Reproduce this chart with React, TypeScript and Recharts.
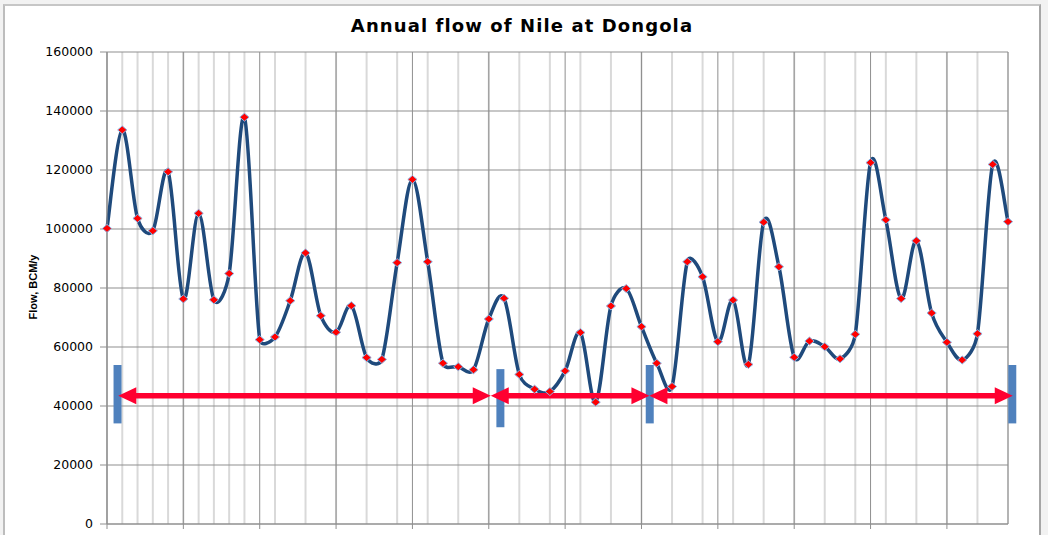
import { LineChart, Line, XAxis, YAxis, CartesianGrid, ReferenceLine } from "recharts";

// annual flow at Dongola (one value per year, 60 years)
const flow = [
  100200, 133600, 103600, 99400, 119400, 76300, 105300, 76000, 84900, 137900,
  62500, 63400, 75700, 91900, 70600, 65000, 74000, 56400, 55800, 88600,
  116800, 88900, 54500, 53300, 52300, 69500, 76500, 50700, 45700, 44900,
  51900, 64900, 41300, 73900, 79800, 66900, 54500, 46600, 88900, 83800,
  61800, 75900, 54100, 102300, 87200, 56500, 62000, 60100, 56000, 64300,
  122500, 103100, 76400, 96000, 71500, 61600, 55600, 64500, 121900, 102500,
];

const yTicks = [0, 20000, 40000, 60000, 80000, 100000, 120000, 140000, 160000];
const majorTicks = [0, 5, 10, 15, 20, 25, 30, 35, 40, 45, 50, 55];
const minorTicks = flow.map((_, i) => i);

// period annotations (x in year index, y in flow units)
const arrowLevel = 43500;
const arrowSpans = [
  [0.74, 25.13],
  [25.13, 35.52],
  [35.52, 59.31],
];
const periodBars = [
  { x: 0.69, from: 34100, to: 53900 },
  { x: 25.76, from: 32800, to: 52500 },
  { x: 35.54, from: 34100, to: 53900 },
  { x: 59.28, from: 34100, to: 53900 },
];

const data = flow.map((v, i) => ({ i, flow: v }));

// Excel-like smoothed line: Catmull-Rom arms, clamped so short segments don't overshoot
function smoothCurve(ctx: any) {
  let pts: number[][] = [];
  const arm = (from: number[], dx: number, dy: number, seg: number[]) => {
    const len = Math.hypot(dx, dy);
    const max = 0.5 * Math.hypot(seg[0] - from[0], seg[1] - from[1]);
    const s = len > max && len > 0 ? max / len : 1;
    return [from[0] + dx * s, from[1] + dy * s];
  };
  return {
    areaStart() {},
    areaEnd() {},
    lineStart() {
      pts = [];
    },
    point(x: number, y: number) {
      pts.push([+x, +y]);
    },
    lineEnd() {
      const n = pts.length;
      if (!n) return;
      ctx.moveTo(pts[0][0], pts[0][1]);
      for (let k = 0; k < n - 1; k++) {
        const p0 = pts[k - 1] || pts[k];
        const p1 = pts[k];
        const p2 = pts[k + 1];
        const p3 = pts[k + 2] || p2;
        const c1 = arm(p1, (p2[0] - p0[0]) / 6, (p2[1] - p0[1]) / 6, p2);
        const c2 = arm(p2, -(p3[0] - p1[0]) / 6, -(p3[1] - p1[1]) / 6, p1);
        ctx.bezierCurveTo(c1[0], c1[1], c2[0], c2[1], p2[0], p2[1]);
      }
    },
  };
}

function Diamond(props: any) {
  const { cx, cy, index } = props;
  if (cx == null || cy == null) return <g key={index} />;
  const w = 4.6;
  const h = 4;
  return (
    <polygon
      key={index}
      points={`${cx - w},${cy} ${cx},${cy - h} ${cx + w},${cy} ${cx},${cy + h}`}
      fill="#ff0000"
      stroke="#8eb4e3"
      strokeWidth={1}
    />
  );
}

function DoubleArrow(props: any) {
  const { x1, y1, x2 } = props;
  const y = y1;
  const len = 18;
  const half = 8.5;
  const c = "#ff0030";
  return (
    <g>
      <line x1={x1 + len - 1} y1={y} x2={x2 - len + 1} y2={y} stroke={c} strokeWidth={5.5} />
      <polygon points={`${x1},${y} ${x1 + len},${y - half} ${x1 + len},${y + half}`} fill={c} />
      <polygon points={`${x2},${y} ${x2 - len},${y - half} ${x2 - len},${y + half}`} fill={c} />
    </g>
  );
}

export default function App() {
  return (
    <div
      style={{
        position: "absolute",
        left: 0,
        top: 0,
        width: 1048,
        height: 535,
        overflow: "hidden",
        background: "#f2f2f2",
      }}
    >
      <div
        style={{
          position: "absolute",
          left: 3,
          top: 4,
          width: 1034,
          height: 560,
          background: "#ffffff",
          borderTop: "2px solid #c6c6c6",
          borderLeft: "2px solid #bdbdbd",
          borderRight: "2px solid #a6a6a6",
        }}
      />
      <div
        style={{
          position: "absolute",
          left: 0,
          top: 15,
          width: 1044,
          textAlign: "center",
          fontFamily: "'DejaVu Sans', sans-serif",
          fontWeight: 700,
          fontSize: 18,
          letterSpacing: 1.1,
          lineHeight: "22px",
          color: "#000",
        }}
      >
        Annual flow of Nile at Dongola
      </div>
      <div
        style={{
          position: "absolute",
          left: 33,
          top: 287,
          transform: "translate(-50%, -50%) rotate(-90deg)",
          whiteSpace: "nowrap",
          fontFamily: "'Liberation Sans Narrow', 'Liberation Sans', sans-serif",
          fontWeight: 700,
          fontSize: 11,
          color: "#000",
        }}
      >
        Flow, BCM/y
      </div>
      <div style={{ position: "absolute", left: 0, top: 0 }}>
        <LineChart
          width={1048}
          height={535}
          data={data}
          margin={{ top: 52, right: 40, bottom: 0, left: 47 }}
        >
          <XAxis
            xAxisId="minor"
            type="number"
            dataKey="i"
            domain={[0, 59]}
            ticks={minorTicks}
            hide
          />
          <CartesianGrid
            xAxisId="minor"
            horizontal={false}
            stroke="#d9d9d9"
            strokeWidth={2}
          />
          <CartesianGrid stroke="#8f8f8f" strokeWidth={1} />
          <XAxis
            type="number"
            dataKey="i"
            domain={[0, 59]}
            ticks={majorTicks}
            height={11}
            tickSize={5}
            tickLine={{ stroke: "#8f8f8f" }}
            axisLine={{ stroke: "#8f8f8f" }}
            tickFormatter={() => ""}
          />
          <YAxis
            width={60}
            domain={[0, 160000]}
            ticks={yTicks}
            tickSize={7}
            tickMargin={7}
            tickLine={{ stroke: "#8f8f8f" }}
            axisLine={{ stroke: "#8f8f8f" }}
            tick={{ fill: "#000", fontSize: 12.5, fontFamily: "'DejaVu Sans', sans-serif" }}
            interval={0}
          />
          <Line
            dataKey="flow"
            type={smoothCurve as any}
            stroke="#1f4a7c"
            strokeWidth={3.5}
            dot={(p: any) => <Diamond key={p.index} {...p} />}
            activeDot={false}
            isAnimationActive={false}
          />
          {periodBars.map((b, k) => (
            <ReferenceLine
              key={"bar" + k}
              segment={[
                { x: b.x, y: b.from },
                { x: b.x, y: b.to },
              ]}
              stroke="#4f81bd"
              strokeWidth={8}
              ifOverflow="visible"
            />
          ))}
          {arrowSpans.map((s, k) => (
            <ReferenceLine
              key={"arrow" + k}
              segment={[
                { x: s[0], y: arrowLevel },
                { x: s[1], y: arrowLevel },
              ]}
              ifOverflow="visible"
              shape={(p: any) => <DoubleArrow {...p} />}
            />
          ))}
        </LineChart>
      </div>
    </div>
  );
}
